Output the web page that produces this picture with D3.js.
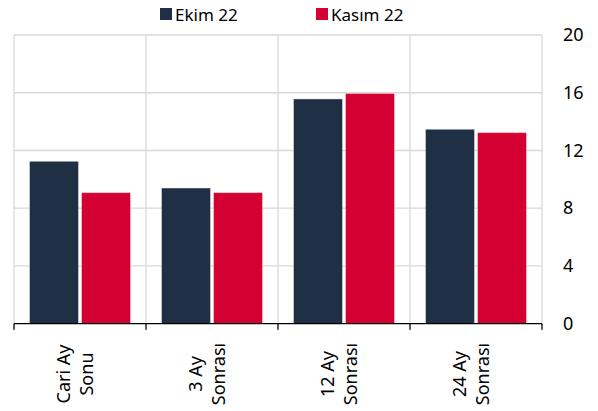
<!DOCTYPE html>
<html>
<head>
<meta charset="utf-8">
<script src="https://cdnjs.cloudflare.com/ajax/libs/d3/7.8.5/d3.min.js"></script>
<style>
  body { margin: 0; background: #fff; }
  svg { display: block; font-family: "Noto Sans", "Open Sans", sans-serif; }
</style>
</head>
<body>
<div id="chart"></div>
<script>
// data
const categories = ["Cari Ay Sonu", "3 Ay Sonrası", "12 Ay Sonrası", "24 Ay Sonrası"];
const labelLines = [["Cari Ay", "Sonu"], ["3 Ay", "Sonrası"], ["12 Ay", "Sonrası"], ["24 Ay", "Sonrası"]];
const seriesNames = ["Ekim 22", "Kasım 22"];
const ekim = [11.25, 9.4, 15.57, 13.47];
const kasim = [9.08, 9.08, 15.95, 13.24];
const yTicks = [0, 4, 8, 12, 16, 20];
const colors = ["#1f3045", "#d50032"];

const width = 598, height = 411;
const plotLeft = 14, plotRight = 542, plotTop = 35, plotBottom = 323.7;

const svg = d3.select("#chart").append("svg")
    .attr("width", width)
    .attr("height", height);

const x = d3.scaleBand()
    .domain(categories)
    .range([plotLeft, plotRight])
    .padding(0);

const xs = d3.scaleBand()
    .domain(seriesNames)
    .range([0, x.bandwidth()])
    .paddingInner(0.0577)
    .paddingOuter(0.298);

const y = d3.scaleLinear()
    .domain([0, 20])
    .range([plotBottom, plotTop]);

// horizontal grid
svg.append("g").selectAll("line")
    .data(yTicks.filter(d => d > 0))
    .enter().append("line")
    .attr("x1", plotLeft).attr("x2", plotRight)
    .attr("y1", d => y(d)).attr("y2", d => y(d))
    .attr("stroke", "#d9d9d9")
    .attr("stroke-width", 1.3);

// vertical separators
const bounds = categories.map(c => x(c)).concat([plotRight]);
svg.append("g").selectAll("line")
    .data(bounds)
    .enter().append("line")
    .attr("x1", d => d).attr("x2", d => d)
    .attr("y1", plotTop).attr("y2", plotBottom)
    .attr("stroke", "#d9d9d9")
    .attr("stroke-width", 1.3);

// bars
const rows = categories.map((c, i) => ({cat: c, vals: [ekim[i], kasim[i]]}));
svg.append("g").selectAll("g")
    .data(rows)
    .enter().append("g")
    .attr("transform", d => "translate(" + x(d.cat) + ",0)")
    .selectAll("rect")
    .data(d => d.vals.map((v, j) => ({name: seriesNames[j], v: v, j: j})))
    .enter().append("rect")
    .attr("x", d => xs(d.name))
    .attr("width", xs.bandwidth())
    .attr("y", d => y(d.v))
    .attr("height", d => y(0) - y(d.v))
    .attr("fill", d => colors[d.j])
    .attr("stroke", "rgba(255,255,255,0.4)")
    .attr("stroke-width", 1);

// bottom axis line + ticks
svg.append("line")
    .attr("x1", plotLeft).attr("x2", plotRight)
    .attr("y1", plotBottom).attr("y2", plotBottom)
    .attr("stroke", "#000").attr("stroke-width", 1.3);
svg.append("g").selectAll("line")
    .data(bounds)
    .enter().append("line")
    .attr("x1", d => d).attr("x2", d => d)
    .attr("y1", plotBottom).attr("y2", plotBottom + 6)
    .attr("stroke", "#000").attr("stroke-width", 1.3);

// right y axis labels
const yAxis = svg.append("g")
    .attr("transform", "translate(" + plotRight + ",0)")
    .call(d3.axisRight(y).tickValues(yTicks).tickSize(0).tickPadding(21));
yAxis.select(".domain").remove();
yAxis.selectAll("text")
    .attr("font-family", "Noto Sans, sans-serif")
    .attr("font-size", 18)
    .attr("fill", "#000");

// category labels, rotated
const lbl = svg.append("g").selectAll("text")
    .data(categories)
    .enter().append("text")
    .attr("transform", d => "translate(" + (x(d) + x.bandwidth() / 2) + ",374) rotate(-90)")
    .attr("text-anchor", "middle")
    .attr("font-size", 18)
    .attr("fill", "#000");
lbl.selectAll("tspan")
    .data((d, i) => labelLines[i])
    .enter().append("tspan")
    .attr("x", 0)
    .attr("y", (d, k) => k === 0 ? -10 : 13)
    .text(d => d);

// legend
const legendX = [160, 316];
const legend = svg.append("g").selectAll("g")
    .data(seriesNames)
    .enter().append("g")
    .attr("transform", (d, i) => "translate(" + legendX[i] + ",0)");
legend.append("rect")
    .attr("x", 0).attr("y", 8)
    .attr("width", 12).attr("height", 12)
    .attr("fill", (d, i) => colors[i]);
legend.append("text")
    .attr("x", 15).attr("y", 20.5)
    .attr("font-size", 17)
    .attr("fill", "#000")
    .text(d => d);
</script>
</body>
</html>
